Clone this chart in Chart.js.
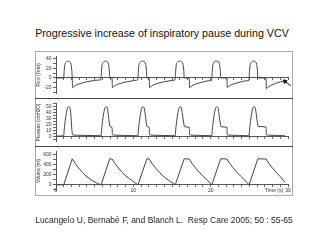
<!DOCTYPE html>
<html>
<head>
<meta charset="utf-8">
<script src="https://cdn.jsdelivr.net/npm/chart.js@4.4.0/dist/chart.umd.min.js"></script>
<style>
  html, body { margin: 0; padding: 0; background: #fff; }
  body { width: 320px; height: 240px; position: relative; overflow: hidden; font-family: 'Liberation Sans', Arial, sans-serif; }
  #title { position: absolute; left: 2px; width: 320px; top: 27px; line-height: 12px; text-align: center; font-size: 10.7px; color: #111; white-space: nowrap; }
  #frame { position: absolute; left: 35px; top: 51px; width: 256px; height: 143px; border: 1px solid #aaa; }
  .sep { position: absolute; left: 35px; width: 258px; height: 1px; background: #444; }
  .panel { position: absolute; left: 36px; }
  #timeLabel { position: absolute; left: 265px; top: 187px; font-size: 5px; line-height: 6px; color: #333; }
  #source { position: absolute; left: 4px; width: 320px; top: 215px; line-height: 10px; text-align: center; font-size: 8.5px; color: #222; white-space: pre; }
</style>
</head>
<body>
<div id="title">Progressive increase of inspiratory pause during VCV</div>
<div id="frame"></div>
<canvas id="flowChart" class="panel" style="top:52px" width="256" height="46"></canvas>
<div class="sep" style="top:98px"></div>
<canvas id="presChart" class="panel" style="top:99px" width="256" height="47"></canvas>
<div class="sep" style="top:146px"></div>
<canvas id="volChart" class="panel" style="top:147px" width="256" height="48"></canvas>
<div id="timeLabel">Time (s)</div>
<div id="source">Lucangelo U, Bernabè F, and Blanch L.  Resp Care 2005; 50 : 55-65</div>

<script>
// x axis labels (seconds)
const xLabels = [0, 10, 20, 30];

// Flow (l/min)
const flowTicks = [40, 20, 0, -20];
const flowT = [0, 1.0, 1.05, 1.15, 1.3, 1.55, 1.75, 1.95, 2.05, 2.1, 2.15, 2.45, 2.85, 3.35, 3.95, 4.65, 5.35, 5.8,
  5.83, 5.88, 5.98, 6.13, 6.38, 6.6, 6.8, 6.9, 6.95, 7.25, 7.3, 7.6, 8.0, 8.5, 9.1, 9.7, 10.2, 10.57,
  10.6, 10.65, 10.75, 10.9, 11.15, 11.4, 11.6, 11.7, 11.75, 12.05, 12.1, 12.4, 12.8, 13.3, 13.9, 14.5, 15.0, 15.39,
  15.42, 15.47, 15.57, 15.72, 15.97, 16.23, 16.43, 16.53, 16.58, 17.23, 17.28, 17.58, 17.98, 18.48, 19.08, 19.7, 20.12,
  20.15, 20.2, 20.3, 20.45, 20.7, 20.95, 21.15, 21.25, 21.3, 22.1, 22.15, 22.45, 22.85, 23.35, 23.95, 24.5, 24.94,
  24.97, 25.02, 25.12, 25.27, 25.52, 25.75, 25.95, 26.05, 26.1, 27.16, 27.21, 27.5, 27.9, 28.4, 29.0, 29.6];
const flowV = [0, 0, 14, 28, 33, 35, 34, 28, 14, 0, -20, -16, -13, -10.5, -8, -6, -4.5, -3.5,
  0, 14, 28, 33, 35, 34, 28, 14, 0, 0, -20, -16, -13, -10.5, -8, -6.5, -5, -4,
  0, 14, 28, 33, 35, 34, 28, 14, 0, 0, -20, -16, -13, -10.5, -8, -6.5, -5, -4,
  0, 14, 28, 33, 35, 34, 28, 14, 0, 0, -20, -16, -13, -10.5, -8, -6, -5,
  0, 14, 28, 33, 35, 34, 28, 14, 0, 0, -20, -16, -13, -10.5, -8, -6, -5,
  0, 14, 28, 33, 35, 34, 28, 14, 0, 0, -22, -18, -14.5, -11, -8, -6];
// little arrow near the end of the last breath
const arrowT = [29.6, 30.35];
const arrowV = [-7, -16];

// Pressure (cmH2O)
const presTicks = [50, 40, 30, 20, 10, 0];
const presT = [0, 1.0, 1.05, 1.2, 1.35, 1.5, 1.65, 1.8, 1.9, 2.05, 2.15, 2.5, 4.0, 5.8,
  5.83, 5.88, 6.03, 6.18, 6.33, 6.48, 6.63, 6.73, 6.95, 7.0, 7.25, 7.3, 7.6, 9.0, 10.57,
  10.6, 10.65, 10.8, 10.95, 11.1, 11.25, 11.4, 11.5, 11.75, 11.8, 12.05, 12.1, 12.4, 13.8, 15.39,
  15.42, 15.47, 15.62, 15.77, 15.92, 16.07, 16.22, 16.32, 16.58, 16.63, 17.23, 17.28, 17.6, 18.9, 20.12,
  20.15, 20.2, 20.35, 20.5, 20.65, 20.8, 20.95, 21.05, 21.3, 21.35, 22.1, 22.15, 22.5, 23.6, 24.94,
  24.97, 25.02, 25.17, 25.32, 25.47, 25.62, 25.77, 25.87, 26.1, 26.15, 27.16, 27.21, 27.5, 28.8, 29.6];
const presV = [1, 1.5, 10, 27, 40, 48, 50, 48, 40, 12, 3, 2.5, 2, 1.5,
  1.5, 10, 27, 40, 48, 50, 48, 40, 18, 16.5, 15.5, 3, 2.5, 2, 1.5,
  1.5, 10, 27, 40, 48, 50, 48, 40, 18, 16.5, 15.5, 3, 2.5, 2, 1.5,
  1.5, 10, 27, 40, 48, 50, 48, 40, 18, 16.5, 15.5, 3, 2.5, 2, 1.5,
  1.5, 10, 27, 40, 48, 50, 48, 40, 18, 16.5, 15.5, 3, 2.5, 2, 1.5,
  1.5, 10, 27, 40, 48, 50, 48, 40, 19, 17, 16, 3, 2.5, 2, 1.5];

// Volume (ml)
const volTicks = [600, 400, 200, 0];
const volT = [0, 1.0, 2.1, 2.5, 2.9, 3.4, 3.9, 4.4, 4.9, 5.4, 5.83,
  6.95, 7.25, 7.65, 8.05, 8.55, 9.05, 9.55, 10.05, 10.6,
  11.75, 12.05, 12.45, 12.85, 13.35, 13.85, 14.35, 14.85, 15.42,
  16.58, 17.23, 17.63, 18.03, 18.53, 19.03, 19.53, 20.15,
  21.3, 22.1, 22.5, 22.9, 23.4, 23.9, 24.4, 24.97,
  26.1, 27.16, 27.56, 27.96, 28.46, 28.96, 29.6];
const volV = [0, 0, 520, 420, 340, 250, 175, 115, 65, 25, 0,
  520, 515, 420, 340, 250, 175, 115, 60, 0,
  520, 515, 420, 340, 250, 175, 115, 60, 0,
  520, 515, 420, 340, 250, 170, 100, 0,
  520, 515, 420, 340, 250, 170, 95, 0,
  520, 515, 420, 340, 250, 170, 50];

const FONT = 'Liberation Sans';

function toPoints(ts, vs) {
    return ts.map((t, i) => ({ x: t, y: vs[i] }));
}

function panelOptions(yMin, yMax, step, yLabels, yTitle, showX) {
    return {
        responsive: false,
        animation: false,
        events: [],
        layout: { autoPadding: false, padding: { left: 0, right: 4, top: 0, bottom: 0 } },
        plugins: { legend: { display: false }, tooltip: { enabled: false } },
        scales: {
            x: {
                type: 'linear', min: 0, max: 30,
                position: { y: 0 },
                ticks: {
                    stepSize: 1, autoSkip: false, maxRotation: 0, padding: 1,
                    color: '#333', font: { family: FONT, size: 5 },
                    callback: v => (showX && xLabels.includes(v)) ? String(v) : ''
                },
                grid: { drawOnChartArea: false, tickLength: 2, color: '#666' },
                border: { color: '#555', width: 1 }
            },
            y: {
                min: yMin, max: yMax,
                ticks: {
                    stepSize: step, includeBounds: false, autoSkip: false, padding: 1.5,
                    color: '#333', font: { family: FONT, size: 5 },
                    callback: v => yLabels.includes(v) ? String(v) : ''
                },
                grid: { drawOnChartArea: false, tickLength: 3, color: '#666' },
                border: { color: '#555', width: 1 },
                title: { display: true, text: yTitle, padding: 0, color: '#333', font: { family: FONT, size: 4.5 } },
                afterFit: s => { s.width = 20; }
            }
        }
    };
}

function lineSet(ts, vs, smooth) {
    return {
        data: toPoints(ts, vs),
        borderColor: '#444',
        borderWidth: 1,
        pointRadius: 0,
        fill: false,
        cubicInterpolationMode: smooth ? 'monotone' : 'default',
        tension: 0
    };
}

new Chart(document.getElementById('flowChart'), {
    type: 'line',
    data: {
        datasets: [
            lineSet(flowT, flowV, true),
            {
                data: toPoints(arrowT, arrowV),
                borderColor: '#111', backgroundColor: '#111', borderWidth: 1,
                pointStyle: 'triangle', pointRadius: [2.2, 0], pointRotation: [-50, 0],
                clip: false
            }
        ]
    },
    options: panelOptions(-32.2, 44.5, 10, flowTicks, 'Flow (l/min)', false)
});

new Chart(document.getElementById('presChart'), {
    type: 'line',
    data: { datasets: [lineSet(presT, presV, true)] },
    options: panelOptions(-8.1, 55.4, 5, presTicks, 'Pressure (cmH2O)', false)
});

new Chart(document.getElementById('volChart'), {
    type: 'line',
    data: { datasets: [lineSet(volT, volV, false)] },
    options: panelOptions(-113.5, 665, 100, volTicks, 'Volume (ml)', true)
});
</script>
</body>
</html>
